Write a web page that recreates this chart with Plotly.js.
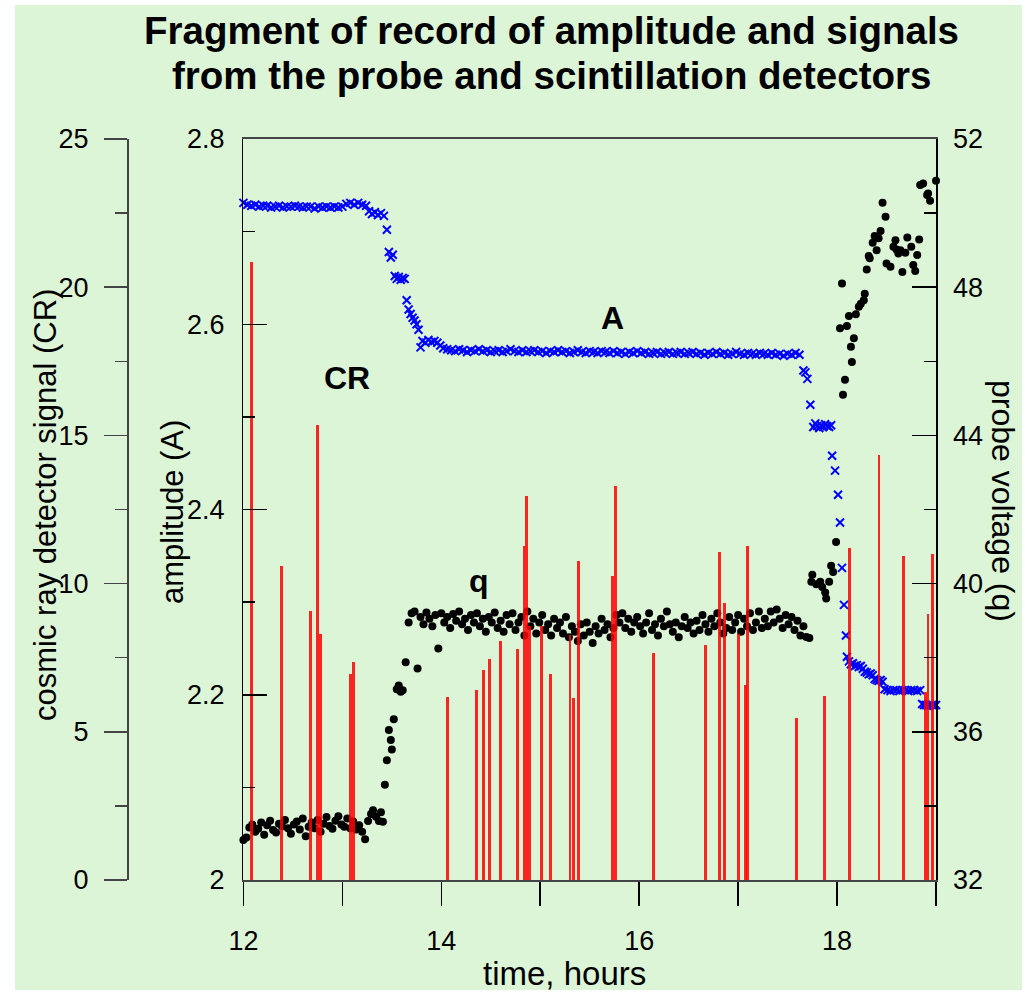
<!DOCTYPE html>
<html><head><meta charset="utf-8">
<script src="https://cdn.plot.ly/plotly-3.0.1.min.js"></script>
<style>html,body{margin:0;padding:0;background:#fff}</style>
</head><body><div id="chart" style="width:1027px;height:995px"></div>
<script>
// ---------- data ----------
const timeTicks = [12, 13, 14, 15, 16, 17, 18, 19];
const timeTickText = ['12', '', '14', '', '16', '', '18', ''];
const ampTicks = [2, 2.2, 2.4, 2.6, 2.8];
const ampTickText = ['2', '2.2', '2.4', '2.6', '2.8'];
const ampMinor = [2.1, 2.3, 2.5, 2.7];
const probeTicks = [32, 36, 40, 44, 48, 52];
const probeMinor = [34, 38, 42, 46, 50];
const crTicks = [0, 5, 10, 15, 20, 25];
const crMinor = [2.5, 7.5, 12.5, 17.5, 22.5];

// amplitude A (blue crosses)
const tA = [
 12.00,12.04,12.08,12.12,12.16,12.20,12.24,12.28,12.32,12.36,12.40,12.44,12.48,12.52,12.56,12.60,
 12.64,12.68,12.72,12.76,12.80,12.84,12.88,12.92,12.96,13.00,13.04,13.08,13.12,13.16,13.20,13.24,
 13.27,13.30,13.33,13.36,13.39,13.42,13.45,13.47,13.49,13.51,13.53,13.55,13.57,13.59,13.61,13.63,
 13.65,13.67,13.69,13.71,13.73,13.75,13.77,13.79,13.81,13.84,13.87,13.90,13.93,13.96,13.99,14.02,
 14.06,14.10,14.14,14.18,14.22,14.26,14.30,14.34,14.38,14.42,
 14.46,14.50,14.54,14.58,14.62,14.66,14.70,14.74,14.78,14.82,
 14.86,14.90,14.94,14.98,15.02,15.06,15.10,15.14,15.18,15.22,
 15.26,15.30,15.34,15.38,15.42,15.46,15.50,15.54,15.58,15.62,
 15.66,15.70,15.74,15.78,15.82,15.86,15.90,15.94,15.98,16.02,
 16.06,16.10,16.14,16.18,16.22,16.26,16.30,16.34,16.38,16.42,
 16.46,16.50,16.54,16.58,16.62,16.66,16.70,16.74,16.78,16.82,
 16.86,16.90,16.94,16.98,17.02,17.06,17.10,17.14,17.18,17.22,
 17.26,17.30,17.34,17.38,17.42,17.46,17.50,17.54,17.58,17.62,
 17.66,17.68,17.70,17.73,17.76,17.78,17.80,17.82,17.84,17.86,17.88,17.90,17.92,17.94,
 17.95,17.98,18.01,18.03,18.05,18.07,18.09,18.10,
 18.12,18.14,18.16,18.18,18.20,18.22,18.24,18.26,18.28,18.30,18.32,18.34,18.36,18.38,18.40,18.42,18.44,18.46,
 18.48,18.51,18.54,18.57,18.60,18.63,18.66,18.69,18.72,18.75,18.78,18.81,18.84,
 18.86,18.88,18.90,18.92,18.94,18.96,18.98,19.00
];
const ampA = [
 2.731,2.729,2.728,2.729,2.727,2.728,2.728,2.726,2.727,2.728,2.726,2.727,2.727,2.728,2.727,2.726,
 2.727,2.727,2.725,2.727,2.726,2.727,2.726,2.727,2.726,2.727,2.730,2.731,2.729,2.731,2.729,2.728,
 2.722,2.719,2.721,2.718,2.720,2.717,2.702,2.678,2.672,2.675,2.652,2.649,2.651,2.648,2.650,2.649,
 2.626,2.616,2.611,2.607,2.604,2.600,2.594,2.575,2.582,2.580,2.583,2.581,2.582,2.580,2.577,2.574,
 2.573,2.572,2.571,2.573,2.572,2.570,2.572,2.571,2.573,2.571,
 2.572,2.570,2.571,2.572,2.570,2.571,2.573,2.571,2.570,2.572,
 2.570,2.571,2.572,2.570,2.571,2.569,2.571,2.570,2.572,2.570,
 2.571,2.569,2.570,2.572,2.570,2.569,2.571,2.570,2.569,2.571,
 2.570,2.569,2.571,2.569,2.570,2.568,2.570,2.569,2.571,2.569,
 2.570,2.568,2.569,2.570,2.568,2.569,2.570,2.568,2.569,2.570,
 2.568,2.569,2.570,2.568,2.569,2.567,2.569,2.568,2.570,2.568,
 2.569,2.567,2.568,2.570,2.568,2.567,2.569,2.568,2.567,2.569,
 2.568,2.567,2.569,2.567,2.568,2.566,2.568,2.567,2.569,2.567,
 2.550,2.548,2.541,2.513,2.489,2.493,2.490,2.488,2.491,2.489,2.492,2.490,2.489,2.491,
 2.458,2.442,2.416,2.386,2.337,2.297,2.264,2.241,
 2.236,2.233,2.234,2.231,2.232,2.230,2.231,2.228,2.225,2.224,2.222,2.223,2.221,2.217,2.216,2.215,2.216,2.214,
 2.206,2.205,2.204,2.205,2.205,2.204,2.205,2.205,2.204,2.205,2.205,2.204,2.205,
 2.190,2.189,2.189,2.188,2.189,2.189,2.188,2.189
];

// probe voltage q (black dots)
const tQ = [
 12.00,12.03,12.06,12.09,12.12,12.15,12.18,12.21,12.24,12.27,12.30,12.33,12.36,12.39,12.42,12.45,12.48,12.51,12.54,12.57,12.60,
 12.63,12.66,12.69,12.72,12.75,12.78,12.81,12.84,12.87,12.90,12.93,12.96,12.99,13.02,13.05,13.08,13.11,13.14,13.17,13.20,13.23,
 13.26,13.29,13.31,13.34,13.37,13.39,13.41,
 13.43,13.45,13.47,13.49,13.50,13.52,13.55,13.57,13.59,13.61,13.64,
 13.67,13.70,13.73,13.76,13.79,13.82,13.85,13.88,13.91,13.94,
 13.97,14.00,14.03,14.06,14.09,14.12,14.15,14.18,14.21,14.24,
 14.27,14.30,14.33,14.36,14.39,14.42,14.45,14.48,14.51,14.54,
 14.57,14.60,14.63,14.66,14.69,14.72,14.75,14.78,14.81,14.84,
 14.87,14.90,14.93,14.96,14.99,15.02,15.05,15.08,15.11,15.14,
 15.17,15.20,15.23,15.26,15.29,15.32,15.35,15.38,15.41,15.44,
 15.47,15.50,15.53,15.56,15.59,15.62,15.65,15.68,15.71,15.74,
 15.77,15.80,15.83,15.86,15.89,15.92,15.95,15.98,16.01,16.04,
 16.07,16.10,16.13,16.16,16.19,16.22,16.25,16.28,16.31,16.34,
 16.37,16.40,16.43,16.46,16.49,16.52,16.55,16.58,16.61,16.64,
 16.67,16.70,16.73,16.76,16.79,16.82,16.85,16.88,16.91,16.94,
 16.97,17.00,17.03,17.06,17.09,17.12,17.15,17.18,17.21,17.24,
 17.27,17.30,17.33,17.36,17.39,17.42,17.45,17.48,17.51,17.54,
 17.57,17.60,17.63,17.66,17.69,17.72,
 17.74,17.75,17.79,17.83,17.85,17.88,17.89,17.92,17.94,17.96,17.99,
 18.03,18.05,18.06,18.08,18.10,18.12,18.14,18.15,18.17,18.19,18.22,18.24,18.27,18.28,18.30,
 18.32,18.33,18.36,18.38,18.40,18.42,18.44,18.46,18.49,18.50,18.54,18.57,18.59,18.60,18.62,
 18.64,18.66,18.69,18.71,18.75,18.77,18.79,18.81,18.83,18.84,18.87,18.91,18.92,18.94,19.00
];
const probeQ = [
 33.08,33.15,33.42,33.50,33.30,33.38,33.55,33.22,33.48,33.60,33.35,33.28,33.52,33.45,33.62,33.40,33.25,33.50,33.58,33.36,33.66,
 33.18,33.44,33.55,33.40,33.62,33.30,33.52,33.70,33.46,33.38,33.60,33.72,33.50,33.44,33.66,33.40,33.58,33.36,33.48,33.30,33.10,
 33.59,33.78,33.88,33.71,33.59,33.83,33.57,
 34.57,35.23,36.05,35.78,35.52,36.34,37.15,37.25,37.08,37.12,37.88,
 38.95,39.20,39.25,37.71,39.10,38.90,39.22,39.05,38.85,39.15,
 38.25,39.20,38.95,39.10,38.80,39.18,39.00,39.25,38.90,39.05,
 38.75,39.15,38.95,39.20,38.85,39.05,38.70,39.10,38.95,39.22,
 38.80,39.00,38.70,39.15,38.90,39.20,38.75,38.95,39.10,38.60,
 39.25,38.85,39.05,38.65,38.95,39.15,38.75,38.90,38.60,39.05,
 38.80,38.95,38.65,39.10,38.55,38.85,38.70,38.45,38.90,38.60,
 38.95,38.70,38.40,38.85,38.65,39.05,38.75,38.90,38.55,38.80,
 39.15,38.95,39.20,38.80,39.05,38.70,38.95,39.10,38.85,38.65,
 38.95,39.20,38.75,38.90,38.60,39.05,38.85,39.25,38.90,38.70,
 38.95,38.55,38.85,39.10,38.80,38.95,38.65,39.00,38.75,39.15,
 38.90,38.70,39.05,38.85,39.20,38.95,38.65,38.80,39.10,38.75,
 38.95,39.15,38.70,39.05,38.85,39.20,38.75,38.95,39.25,38.80,
 39.05,38.85,39.25,38.95,39.30,39.05,38.80,39.15,38.90,39.10,
 38.75,39.00,38.60,38.85,38.56,38.53,
 40.05,40.24,39.98,40.05,39.91,39.76,39.60,40.05,40.48,40.31,41.12,
 46.89,48.10,45.10,45.50,46.95,47.22,46.39,45.98,46.62,47.27,47.47,47.55,47.65,47.82,48.48,
 48.84,48.78,49.20,49.38,49.00,49.32,49.52,50.28,49.90,48.64,48.55,49.09,49.27,49.02,48.91,
 49.00,48.41,48.93,49.34,49.09,48.60,48.44,48.87,49.29,50.76,50.80,50.49,50.53,50.33,50.87
];

// cosmic ray detector signal CR (red bars)
const tCR = [12.080,12.387,12.676,12.747,12.777,13.084,13.111,14.058,14.351,14.422,14.485,14.597,14.768,
 14.836,14.859,14.894,15.008,15.099,15.301,15.334,15.385,15.729,15.763,16.147,16.675,16.810,16.860,
 17.002,17.073,17.097,17.592,17.871,18.128,18.424,18.670,18.889,18.919,18.963];
const signalCR = [20.85,10.58,9.09,15.36,8.31,6.96,7.36,6.19,6.42,7.07,7.46,8.08,7.78,
 11.27,12.95,8.56,8.56,6.96,8.25,6.14,10.75,10.27,13.30,7.66,7.93,11.05,9.35,
 8.29,6.57,11.28,5.46,6.20,11.20,14.33,10.92,6.33,8.96,11.01];

// ---------- layout helpers (pixel -> paper fraction) ----------
const ML = 20, PW = 987, PT = 139, PH = 741, YB = 880;
const fx = p => (p - ML) / PW;
const fy = p => (YB - p) / PH;
const FONT = 'Liberation Sans, Arial, sans-serif';

const traces = [
  {x: tA, y: ampA, type: 'scatter', mode: 'markers', yaxis: 'y', cliponaxis: false,
   marker: {symbol: 'x-thin', size: 8, color: '#0000ff', line: {width: 2, color: '#0000ff'}}},
  {x: tQ, y: probeQ, type: 'scatter', mode: 'markers', yaxis: 'y2', cliponaxis: false,
   marker: {symbol: 'circle', size: 8, color: '#000000'}},
  {x: tCR, y: signalCR, type: 'bar', yaxis: 'y3', width: 0.03,
   marker: {color: 'rgba(255,0,0,0.85)', line: {width: 0}}}
];

const tickCommon = {tickcolor: '#000', tickwidth: 1.5, showgrid: false, zeroline: false,
  tickfont: {family: FONT, size: 27, color: '#000'}};

const layout = {
  width: 1027, height: 995,
  margin: {l: ML, r: 1027 - ML - PW, t: PT, b: 995 - PT - PH, pad: 0},
  paper_bgcolor: '#ffffff', plot_bgcolor: 'rgba(0,0,0,0)',
  showlegend: false, bargap: 0,
  font: {family: FONT, color: '#000'},
  xaxis: Object.assign({}, tickCommon, {
    domain: [fx(243.4), fx(936)], range: [12, 19],
    tickmode: 'array', tickvals: timeTicks, ticktext: timeTickText,
    ticks: 'outside', ticklen: 24, ticklabelstandoff: 12,
    showline: true, linecolor: '#444', linewidth: 2, mirror: true
  }),
  yaxis: Object.assign({}, tickCommon, {
    range: [2, 2.8], tickmode: 'array', tickvals: ampTicks, ticktext: ampTickText,
    ticks: 'inside', ticklen: 24, ticklabelstandoff: 12,
    minor: {tickmode: 'array', tickvals: ampMinor, ticks: 'inside', ticklen: 12, tickwidth: 1.5, tickcolor: '#000', showgrid: false},
    showline: true, linecolor: '#000', linewidth: 1.5, anchor: 'x'
  }),
  yaxis2: Object.assign({}, tickCommon, {
    range: [32, 52], overlaying: 'y', side: 'right', anchor: 'x',
    tickmode: 'array', tickvals: probeTicks, ticks: 'inside', ticklen: 24, ticklabelstandoff: 10,
    minor: {tickmode: 'array', tickvals: probeMinor, ticks: 'inside', ticklen: 12, tickwidth: 1.5, tickcolor: '#000', showgrid: false},
    showline: true, linecolor: '#000', linewidth: 1.5
  }),
  yaxis3: Object.assign({}, tickCommon, {
    range: [0, 25], overlaying: 'y', side: 'left', anchor: 'free', position: fx(128),
    tickmode: 'array', tickvals: crTicks, ticks: 'outside', ticklen: 23, ticklabelstandoff: 10,
    tickcolor: '#444',
    minor: {tickmode: 'array', tickvals: crMinor, ticks: 'outside', ticklen: 12, tickwidth: 1.5, tickcolor: '#444', showgrid: false},
    showline: true, linecolor: '#444', linewidth: 2
  }),
  shapes: [
    {type: 'rect', xref: 'paper', yref: 'paper', layer: 'below',
     x0: fx(15), x1: fx(1022), y0: fy(990), y1: fy(5),
     fillcolor: '#ddf5d7', line: {width: 0}}
  ],
  annotations: [
    {text: '<b>Fragment of record of amplitude and signals</b>', xref: 'paper', yref: 'paper',
     x: fx(551), y: fy(30), xanchor: 'center', yanchor: 'middle', showarrow: false,
     font: {family: FONT, size: 38.5, color: '#000'}},
    {text: '<b>from the probe and scintillation detectors</b>', xref: 'paper', yref: 'paper',
     x: fx(551), y: fy(75), xanchor: 'center', yanchor: 'middle', showarrow: false,
     font: {family: FONT, size: 38.5, color: '#000'}},
    {text: 'cosmic ray detector signal (CR)', xref: 'paper', yref: 'paper', textangle: -90,
     x: fx(45), y: fy(505), xanchor: 'center', yanchor: 'middle', showarrow: false,
     font: {family: FONT, size: 31, color: '#000'}},
    {text: 'amplitude (A)', xref: 'paper', yref: 'paper', textangle: -90,
     x: fx(172), y: fy(512), xanchor: 'center', yanchor: 'middle', showarrow: false,
     font: {family: FONT, size: 31, color: '#000'}},
    {text: 'probe voltage (q)', xref: 'paper', yref: 'paper', textangle: 90,
     x: fx(1003), y: fy(501), xanchor: 'center', yanchor: 'middle', showarrow: false,
     font: {family: FONT, size: 32, color: '#000'}},
    {text: 'time, hours', xref: 'paper', yref: 'paper',
     x: fx(564), y: fy(973), xanchor: 'center', yanchor: 'middle', showarrow: false,
     font: {family: FONT, size: 33, color: '#000'}},
    {text: '<b>CR</b>', xref: 'paper', yref: 'paper', x: fx(347), y: fy(378),
     xanchor: 'center', yanchor: 'middle', showarrow: false, font: {family: FONT, size: 32, color: '#000'}},
    {text: '<b>A</b>', xref: 'paper', yref: 'paper', x: fx(612), y: fy(318),
     xanchor: 'center', yanchor: 'middle', showarrow: false, font: {family: FONT, size: 32, color: '#000'}},
    {text: '<b>q</b>', xref: 'paper', yref: 'paper', x: fx(479), y: fy(581),
     xanchor: 'center', yanchor: 'middle', showarrow: false, font: {family: FONT, size: 32, color: '#000'}}
  ]
};

Plotly.newPlot('chart', traces, layout, {displayModeBar: false, staticPlot: true});
</script></body></html>
